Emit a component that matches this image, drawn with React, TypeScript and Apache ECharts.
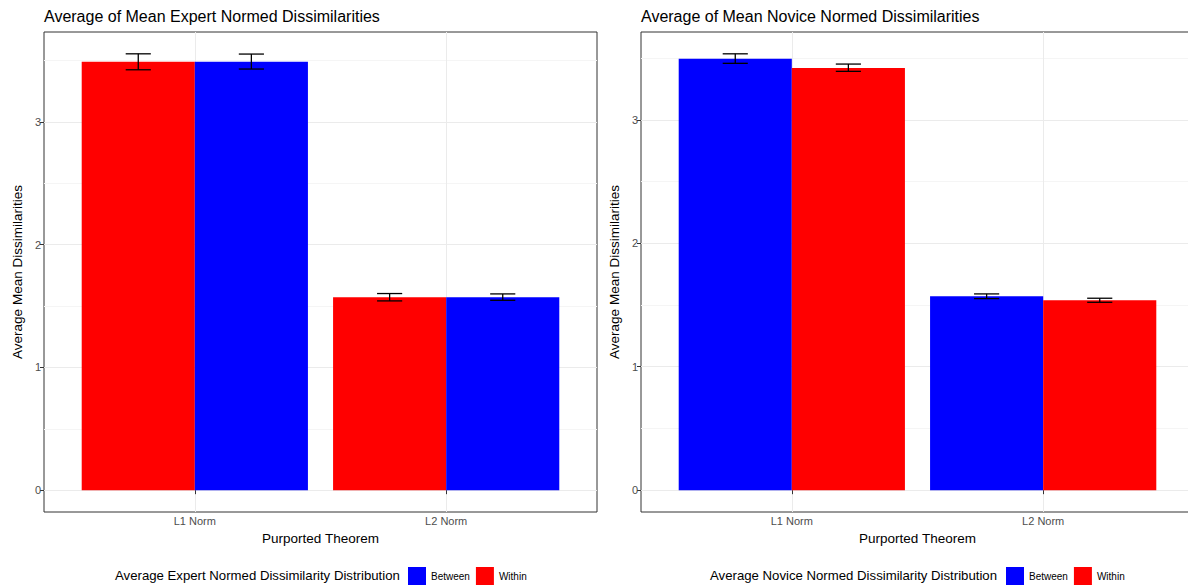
import React, { useEffect, useRef } from "react";
import * as echarts from "echarts";

// ---------- data ----------
const categories = ["L1 Norm", "L2 Norm"];
const seriesNames = ["Between", "Within"];

// Expert panel (left): bar order Within (red) then Between (blue)
const expertWithin = [3.49, 1.572];
const expertWithinLo = [3.425, 1.542];
const expertWithinHi = [3.555, 1.602];
const expertBetween = [3.49, 1.572];
const expertBetweenLo = [3.431, 1.547];
const expertBetweenHi = [3.553, 1.599];

// Novice panel (right): bar order Between (blue) then Within (red)
const noviceBetween = [3.495, 1.571];
const noviceBetweenLo = [3.458, 1.552];
const noviceBetweenHi = [3.535, 1.59];
const noviceWithin = [3.42, 1.538];
const noviceWithinLo = [3.393, 1.522];
const noviceWithinHi = [3.452, 1.555];

const yTicks = [0, 1, 2, 3];
const yMinorTicks = [0.5, 1.5, 2.5, 3.5];

const titles = [
  "Average of Mean Expert Normed Dissimilarities",
  "Average of Mean Novice Normed Dissimilarities",
];
const legendTitles = [
  "Average Expert Normed Dissimilarity Distribution",
  "Average Novice Normed Dissimilarity Distribution",
];
const xName = "Purported Theorem";
const yName = "Average Mean Dissimilarities";

const BLUE = "#0000FF";
const RED = "#FF0000";
const FONT = "'Liberation Sans', Arial, sans-serif";
const BAR_W = 0.45;
const CAP_HALF = 0.05;

function barSeries(
  name: string,
  color: string,
  values: number[],
  lo: number[],
  hi: number[],
  side: number,
  panel: number
) {
  return {
    type: "custom",
    name,
    xAxisIndex: panel,
    yAxisIndex: panel * 2,
    itemStyle: { color },
    encode: { x: 0, y: [1, 2, 3] },
    data: values.map((v, i) => [i + 1, v, lo[i], hi[i]]),
    renderItem: (params: any, api: any) => {
      const x = api.value(0);
      const v = api.value(1);
      const l = api.value(2);
      const h = api.value(3);
      const xl = side < 0 ? x - BAR_W : x;
      const xr = side < 0 ? x : x + BAR_W;
      const xc = (xl + xr) / 2;
      const pTL = api.coord([xl, v]);
      const pBR = api.coord([xr, 0]);
      const pLo = api.coord([xc, l]);
      const pHi = api.coord([xc, h]);
      const cL = api.coord([xc - CAP_HALF, h]);
      const cR = api.coord([xc + CAP_HALF, h]);
      const cL2 = api.coord([xc - CAP_HALF, l]);
      const cR2 = api.coord([xc + CAP_HALF, l]);
      const ls = { stroke: "#000", lineWidth: 1.3 };
      return {
        type: "group",
        children: [
          {
            type: "rect",
            shape: {
              x: pTL[0],
              y: pTL[1],
              width: pBR[0] - pTL[0],
              height: pBR[1] - pTL[1],
            },
            style: { fill: color },
          },
          { type: "line", shape: { x1: pLo[0], y1: pLo[1], x2: pHi[0], y2: pHi[1] }, style: ls },
          { type: "line", shape: { x1: cL[0], y1: cL[1], x2: cR[0], y2: cR[1] }, style: ls },
          { type: "line", shape: { x1: cL2[0], y1: cL2[1], x2: cR2[0], y2: cR2[1] }, style: ls },
        ],
      };
    },
  };
}

export default function App() {
  const ref = useRef<HTMLDivElement>(null);
  useEffect(() => {
    document.body.style.margin = "0";
    if (!ref.current) return;
    const chart = echarts.init(ref.current, null, { renderer: "svg" });

    const expertMax = Math.max(...expertWithinHi, ...expertBetweenHi);
    const noviceMax = Math.max(...noviceWithinHi, ...noviceBetweenHi);
    const ranges = [
      [-0.05 * expertMax, 1.05 * expertMax],
      [-0.05 * noviceMax, 1.05 * noviceMax],
    ];
    const gridLefts = [44, 641];

    const grids = gridLefts.map((left) => ({
      left,
      top: 32,
      width: 553,
      height: 480,
      outerBoundsMode: "none",
      containLabel: false,
      show: true,
      borderColor: "#333",
      borderWidth: 1,
      backgroundColor: "transparent",
    }));

    const xAxes = [0, 1].map((p) => ({
      type: "value",
      gridIndex: p,
      min: 0.4,
      max: 2.6,
      name: xName,
      nameLocation: "middle",
      nameGap: 19,
      nameTextStyle: { color: "#000", fontSize: 13.5, fontFamily: FONT },
      axisLine: { show: false },
      axisTick: { show: true, length: 4, customValues: [1, 2], lineStyle: { color: "#333" } },
      axisLabel: {
        customValues: [1, 2],
        formatter: (v: number) => categories[Math.round(v) - 1] ?? "",
        color: "#4d4d4d",
        fontSize: 11,
        fontFamily: FONT,
        margin: 3,
      },
      splitLine: { show: true, lineStyle: { color: "#ebebeb", width: 1 } },
    }));

    const yAxes: any[] = [];
    [0, 1].forEach((p) => {
      yAxes.push({
        type: "value",
        gridIndex: p,
        min: ranges[p][0],
        max: ranges[p][1],
        name: yName,
        nameLocation: "middle",
        nameGap: 20,
        nameTextStyle: { color: "#000", fontSize: 13.5, fontFamily: FONT },
        axisLine: { show: false },
        axisTick: { show: true, length: 4, customValues: yTicks, lineStyle: { color: "#333" } },
        axisLabel: {
          customValues: yTicks,
          color: "#4d4d4d",
          fontSize: 11,
          fontFamily: FONT,
          margin: 3,
        },
        splitLine: { show: true, lineStyle: { color: "#ebebeb", width: 1 } },
      });
      yAxes.push({
        type: "value",
        gridIndex: p,
        position: "left",
        min: ranges[p][0],
        max: ranges[p][1],
        axisLine: { show: false },
        axisTick: { show: false, customValues: yMinorTicks },
        axisLabel: { show: false, customValues: yMinorTicks },
        splitLine: { show: true, lineStyle: { color: "#f5f5f5", width: 1 } },
      });
    });

    chart.setOption({
      animation: false,
      textStyle: { fontFamily: FONT },
      title: [
        {
          text: titles[0],
          left: 44,
          top: 8,
          padding: 0,
          textStyle: { color: "#000", fontSize: 16, fontWeight: "normal", fontFamily: FONT },
        },
        {
          text: titles[1],
          left: 641,
          top: 8,
          padding: 0,
          textStyle: { color: "#000", fontSize: 16, fontWeight: "normal", fontFamily: FONT },
        },
        {
          text: legendTitles[0],
          left: 115,
          top: 569,
          padding: 0,
          textStyle: { color: "#000", fontSize: 13.2, fontWeight: "normal", fontFamily: FONT },
        },
        {
          text: legendTitles[1],
          left: 710,
          top: 569,
          padding: 0,
          textStyle: { color: "#000", fontSize: 13.2, fontWeight: "normal", fontFamily: FONT },
        },
      ],
      legend: [408, 1006].map((left) => ({
        data: seriesNames,
        left,
        top: 567,
        padding: 0,
        icon: "rect",
        itemWidth: 18,
        itemHeight: 18,
        itemGap: 6,
        selectedMode: false,
        textStyle: { color: "#000", fontSize: 10, fontFamily: FONT },
      })),
      grid: grids,
      xAxis: xAxes,
      yAxis: yAxes,
      series: [
        barSeries("Within", RED, expertWithin, expertWithinLo, expertWithinHi, -1, 0),
        barSeries("Between", BLUE, expertBetween, expertBetweenLo, expertBetweenHi, 1, 0),
        barSeries("Between", BLUE, noviceBetween, noviceBetweenLo, noviceBetweenHi, -1, 1),
        barSeries("Within", RED, noviceWithin, noviceWithinLo, noviceWithinHi, 1, 1),
      ],
    });
    return () => chart.dispose();
  }, []);
  return <div ref={ref} style={{ width: 1188, height: 588 }} />;
}
